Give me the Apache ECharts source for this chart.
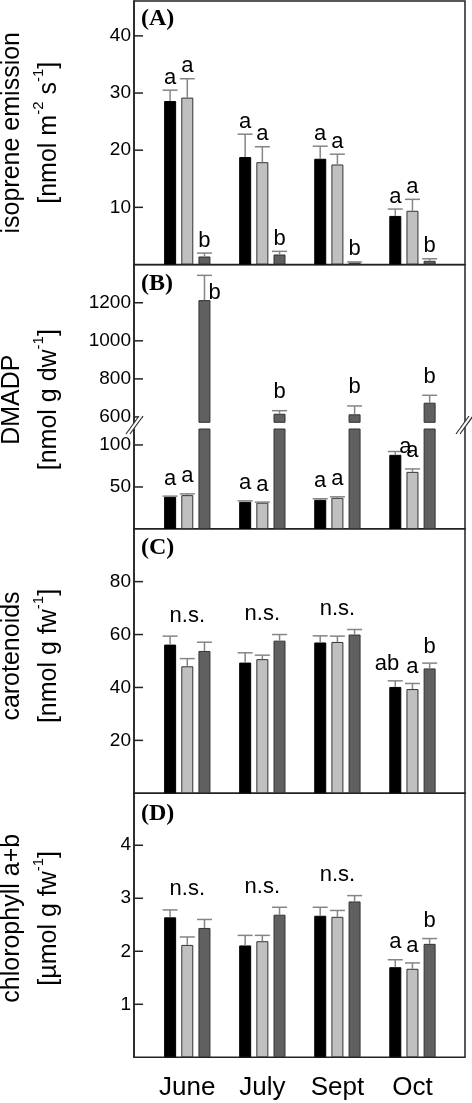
<!DOCTYPE html>
<html><head><meta charset="utf-8">
<script src="https://cdn.jsdelivr.net/npm/echarts@6/dist/echarts.min.js"></script>
<style>html,body{margin:0;padding:0;background:#fff}#c{width:472px;height:1103px}</style>
</head><body><div id="c"></div>
<script>
// ---------- data ----------
const months = ['June', 'July', 'Sept', 'Oct'];

// (A) isoprene emission
const isoBlack = [28.6, 18.8, 18.5, 8.5];
const isoBlackSE = [1.9, 4.0, 2.2, 1.2];
const isoGrey = [29.2, 17.9, 17.5, 9.4];
const isoGreySE = [3.3, 2.7, 1.8, 2.0];
const isoDark = [1.4, 1.75, 0.35, 0.65];
const isoDarkSE = [0.6, 0.55, 0.1, 0.35];
const isoLetters = [['a', 'a', 'a', 'a'], ['a', 'a', 'a', 'a'], ['b', 'b', 'b', 'b']];
const isoTicks = [10, 20, 30, 40];

// (B) DMADP
const dmBlack = [38.3, 32.4, 34.8, 88.3];
const dmBlackSE = [0.8, 1.1, 1.2, 3.9];
const dmGrey = [40.3, 31.3, 37.1, 68.0];
const dmGreySE = [1.5, 0.7, 1.2, 3.5];
const dmDark = [1214, 617, 614, 675];
const dmDarkSE = [130, 16, 44, 39];
const dmLetters = [['a', 'a', 'a', 'a'], ['a', 'a', 'a', 'a'], ['b', 'b', 'b', 'b']];
const dmTicksLow = [50, 100];
const dmTicksHigh = [600, 800, 1000, 1200];

// (C) carotenoids
const carBlack = [56.2, 49.4, 57.0, 40.2];
const carBlackSE = [3.2, 3.7, 2.5, 2.3];
const carGrey = [48.0, 50.7, 57.2, 39.4];
const carGreySE = [2.9, 1.5, 2.2, 2.1];
const carDark = [53.8, 57.7, 60.0, 47.2];
const carDarkSE = [3.3, 2.3, 1.9, 2.0];
const carLetters = [['', '', '', 'ab'], ['', '', '', 'a'], ['', '', '', 'b']];
const carGroup = ['n.s.', 'n.s.', 'n.s.', ''];
const carTicks = [20, 40, 60, 80];

// (D) chlorophyll a+b
const chlBlack = [2.64, 2.11, 2.67, 1.70];
const chlBlackSE = [0.14, 0.19, 0.16, 0.14];
const chlGrey = [2.12, 2.19, 2.65, 1.67];
const chlGreySE = [0.15, 0.11, 0.12, 0.11];
const chlDark = [2.44, 2.69, 2.94, 2.14];
const chlDarkSE = [0.16, 0.14, 0.11, 0.10];
const chlLetters = [['', '', '', 'a'], ['', '', '', 'a'], ['', '', '', 'b']];
const chlGroup = ['n.s.', 'n.s.', 'n.s.', ''];
const chlTicks = [1, 2, 3, 4];

// ---------- layout / style ----------
const SANS = '"Liberation Sans", Arial, sans-serif';
const SERIF = '"Liberation Serif", "Times New Roman", serif';
const FRAME_L = 134, FRAME_W = 331;
const X_MIN = -0.71, X_MAX = 3.70;
const BAR_W = 12, BAR_STEP = 17.2;
const TICK_LEN = 9;
const fills = ['#000000', '#c0c0c0', '#606060'];
const strokes = ['#000000', '#333333', '#333333'];
const ERR_COLOR = '#858585';
const LINE = '#222';

const grids = [], xAxes = [], yAxes = [], series = [];

const nameRich = {
  t: { fontSize: 25, fontFamily: SANS, lineHeight: 37, color: '#000' },
  s: { fontSize: 15, fontFamily: SANS, lineHeight: 15, verticalAlign: 'top', color: '#000' }
};

// inward-pointing tick marks, placed through the axis scales
function addTicks(gi, ticks) {
  series.push({
    type: 'custom', xAxisIndex: gi, yAxisIndex: gi, silent: true, clip: false, z: 4,
    data: ticks.map(v => [X_MIN, v]),
    renderItem: function (params, api) {
      const p = api.coord([api.value(0), api.value(1)]);
      return { type: 'line', shape: { x1: p[0], y1: p[1], x2: p[0] + TICK_LEN, y2: p[1] }, style: { stroke: LINE, lineWidth: 1.5 } };
    }
  });
}

function addGrid(top, height, o) {
  const gi = grids.length;
  grids.push({
    left: FRAME_L, width: FRAME_W, top: top, height: height,
    show: !!o.border, borderColor: LINE, borderWidth: 1.5,
    containLabel: false, outerBoundsMode: 'none'
  });
  xAxes.push({
    gridIndex: gi, type: 'value', min: X_MIN, max: X_MAX, show: !!o.xLabels,
    axisLine: { show: false, onZero: false }, axisTick: { show: false }, splitLine: { show: false },
    axisLabel: o.xLabels ? {
      show: true, customValues: [0, 1, 2, 3], formatter: v => months[Math.round(v)],
      fontSize: 26, color: '#000', fontFamily: SANS, margin: 18
    } : { show: false }
  });
  const hasTicks = !!o.ticks;
  yAxes.push({
    gridIndex: gi, type: 'value', min: o.min, max: o.max,
    splitLine: { show: false },
    axisLine: { show: hasTicks, onZero: false, lineStyle: { color: LINE, width: 1.5 } },
    axisTick: { show: false },
    axisLabel: hasTicks ? { show: true, customValues: o.ticks, formatter: v => String(v), fontSize: 19, color: '#000', fontFamily: SANS, margin: 3 } : { show: false },
    name: o.name || '', nameLocation: 'middle', nameRotate: 90, nameGap: 66,
    nameTextStyle: { rich: nameRich, padding: o.namePad || 0 }
  });
  if (hasTicks) addTicks(gi, o.ticks);
  return gi;
}

function addBars(gi, vals, s) {
  series.push({
    type: 'bar', xAxisIndex: gi, yAxisIndex: gi, silent: true, clip: true, z: 2,
    data: vals.map((v, i) => [i, v]),
    barWidth: BAR_W, barGap: '43%',
    itemStyle: { color: fills[s], borderColor: strokes[s], borderWidth: 1 }
  });
}

function addErr(gi, means, ses, letters, s, gap, yMin, yMax, gridTop) {
  series.push({
    type: 'custom', xAxisIndex: gi, yAxisIndex: gi, silent: true, clip: false, z: 3,
    data: means.map((m, i) => [i, m, m + ses[i]]),
    renderItem: function (params, api) {
      const i = api.value(0), m = api.value(1), top = api.value(2);
      if (m < yMin || m > yMax) return null;
      const pb = api.coord([i, m]);
      const pt = api.coord([i, top]);
      const x = pb[0] + (s - 1) * BAR_STEP;
      const children = [
        { type: 'line', shape: { x1: x, y1: pb[1], x2: x, y2: pt[1] }, style: { stroke: ERR_COLOR, lineWidth: 1.5 } },
        { type: 'line', shape: { x1: x - 7.5, y1: pt[1], x2: x + 7.5, y2: pt[1] }, style: { stroke: ERR_COLOR, lineWidth: 1.5 } }
      ];
      const L = letters[params.dataIndex];
      if (L) {
        let tx = x, ty = pt[1] - gap + 3.5, align = 'center';
        if (L.length > 1) { tx = x + 4; align = 'right'; }
        if (ty - 20 < gridTop) { tx = x + 4; ty = pb[1] + 3.5; align = 'left'; }
        children.push({ type: 'text', style: { text: L, x: tx, y: ty, align: align, verticalAlign: 'bottom', fontSize: 22, fontFamily: SANS, fill: '#000' } });
      }
      return { type: 'group', children: children };
    }
  });
}

function addGroupLabels(gi, meansList, sesList, labels) {
  series.push({
    type: 'custom', xAxisIndex: gi, yAxisIndex: gi, silent: true, clip: false, z: 3,
    data: months.map((_, i) => [i, Math.max.apply(null, meansList.map((m, s) => m[i] + sesList[s][i]))]),
    renderItem: function (params, api) {
      const L = labels[params.dataIndex];
      if (!L) return null;
      const p = api.coord([api.value(0), api.value(1)]);
      return { type: 'text', style: { text: L, x: p[0], y: p[1] - 13 + 3.5, align: 'center', verticalAlign: 'bottom', fontSize: 22, fontFamily: SANS, fill: '#000' } };
    }
  });
}

function panel(gi, vals, ses, letters, gap, yMin, yMax, top) {
  for (let s = 0; s < 3; s++) addBars(gi, vals[s], s);
  for (let s = 0; s < 3; s++) addErr(gi, vals[s], ses[s], letters[s], s, gap, yMin, yMax, top);
}

// (A)
const gA = addGrid(1, 263.5, { border: true, min: 0, max: 46.1, ticks: isoTicks,
  name: '{t|isoprene emission}\n{t|[nmol m}{s|-2}{t| s}{s|-1}{t|]}' });
panel(gA, [isoBlack, isoGrey, isoDark], [isoBlackSE, isoGreySE, isoDarkSE], isoLetters, 5, 0, 46.1, 1);

// (B) frame + two segments
addGrid(264.7, 264, { border: true, min: 0, max: 1, namePad: [0, 6, 0, 0],
  name: '{t|DMADP}\n{t|[nmol g dw}{s|-1}{t|]}' });
const gBu = addGrid(264.7, 157.6, { min: 572, max: 1400, ticks: dmTicksHigh });
const gBl = addGrid(429, 100, { min: 0, max: 119, ticks: dmTicksLow });
panel(gBu, [dmBlack, dmGrey, dmDark], [dmBlackSE, dmGreySE, dmDarkSE], dmLetters, 11, 572, 1400, 264.7);
panel(gBl, [dmBlack, dmGrey, dmDark], [dmBlackSE, dmGreySE, dmDarkSE], dmLetters, 10, 0, 119, 429);

// (C)
const gC = addGrid(528.7, 264.6, { border: true, min: 0, max: 100, ticks: carTicks, namePad: [0, 0, 0, 10],
  name: '{t|carotenoids}\n{t|[nmol g fw}{s|-1}{t|]}' });
panel(gC, [carBlack, carGrey, carDark], [carBlackSE, carGreySE, carDarkSE], carLetters, 9, 0, 100, 528.7);
addGroupLabels(gC, [carBlack, carGrey, carDark], [carBlackSE, carGreySE, carDarkSE], carGroup);

// (D)
const gD = addGrid(793.3, 264, { border: true, min: 0, max: 4.98, ticks: chlTicks, xLabels: true, namePad: [0, 0, 0, 14],
  name: '{t|chlorophyll a+b}\n{t|[\u00b5mol g fw}{s|-1}{t|]}' });
panel(gD, [chlBlack, chlGrey, chlDark], [chlBlackSE, chlGreySE, chlDarkSE], chlLetters, 10, 0, 4.98, 793.3);
addGroupLabels(gD, [chlBlack, chlGrey, chlDark], [chlBlackSE, chlGreySE, chlDarkSE], chlGroup);

const panelTitleStyle = { fontFamily: SERIF, fontWeight: 'bold', fontSize: 24, color: '#000' };

const breakMark = (x0, y0) => [
  { type: 'polygon', z: 100, shape: { points: [[x0, y0 + 18], [x0 + 13, y0], [x0 + 17, y0], [x0 + 4, y0 + 18]] }, style: { fill: '#fff' } },
  { type: 'line', z: 101, shape: { x1: x0, y1: y0 + 18, x2: x0 + 13, y2: y0 }, style: { stroke: '#333', lineWidth: 1.2 } },
  { type: 'line', z: 101, shape: { x1: x0 + 4, y1: y0 + 18, x2: x0 + 17, y2: y0 }, style: { stroke: '#333', lineWidth: 1.2 } }
];

const chart = echarts.init(document.getElementById('c'), null, { renderer: 'canvas' });
chart.setOption({
  animation: false,
  backgroundColor: '#fff',
  title: [
    { text: '(A)', left: 141, top: 7, padding: 0, textStyle: panelTitleStyle },
    { text: '(B)', left: 141, top: 272, padding: 0, textStyle: panelTitleStyle },
    { text: '(C)', left: 141, top: 536, padding: 0, textStyle: panelTitleStyle },
    { text: '(D)', left: 141, top: 802, padding: 0, textStyle: panelTitleStyle }
  ],
  grid: grids,
  xAxis: xAxes,
  yAxis: yAxes,
  series: series,
  graphic: [].concat(breakMark(126, 416), breakMark(456, 416))
});
</script>
</body></html>
